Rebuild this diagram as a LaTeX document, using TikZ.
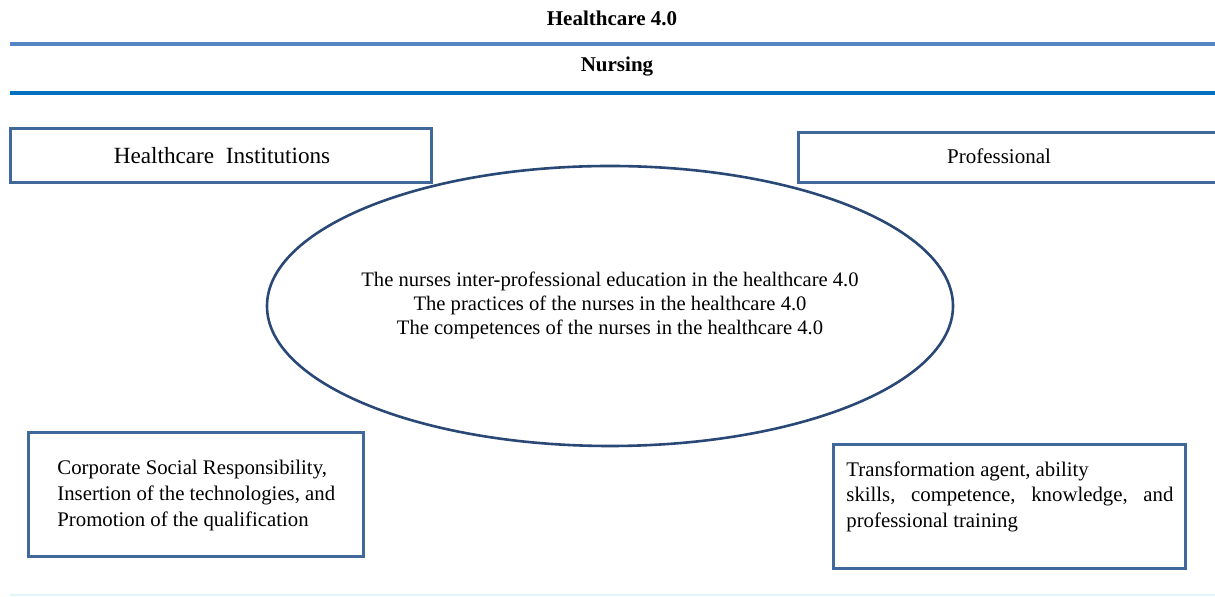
\documentclass[tikz,border=0pt]{standalone}
\usepackage{fontspec}
\setmainfont{Liberation Serif}

\definecolor{rulelight}{RGB}{84,134,196}
\definecolor{ruledark}{RGB}{0,112,192}
\definecolor{boxblue}{RGB}{65,104,155}
\definecolor{ovalblue}{RGB}{42,72,118}
\definecolor{faintcyan}{RGB}{225,246,250}

\tikzset{
  framebox/.style={draw=boxblue, line width=1.5pt},
  bodytext/.style={font=\fontsize{10.4}{12.8}\selectfont, inner sep=0pt},
  heading/.style={font=\fontsize{10.5}{12}\selectfont\bfseries}
}

\begin{document}
\begin{tikzpicture}[x=0.5pt,y=-0.5pt]
\useasboundingbox (0,0) rectangle (1215,597);
% headings and rules
\node [heading] (care) at (612,18) {Healthcare 4.0};
\draw [rulelight, line width=2pt] (10,44) -- (1215,44);
\node [heading] (nurs) at (617,67) {Nursing};
\draw [ruledark, line width=2pt] (10,93) -- (1215,93);
\draw [faintcyan, line width=0.8pt] (10,595) -- (1215,595);

% top boxes
\draw [framebox] (10,129) rectangle (431,183);
\node [font=\fontsize{11.6}{13}\selectfont] (inst) at (222,156) {Healthcare~~Institutions};
\draw [framebox] (798,133) rectangle (1225,183);
\node [font=\fontsize{10.5}{12}\selectfont] (prof) at (999,156) {Professional};

% central oval
\draw [ovalblue, line width=1.3pt] (610,306) ellipse [x radius=343, y radius=140];
\node [align=center, font=\fontsize{10.3}{12}\selectfont] (core) at (610,305)
  {The nurses inter-professional education in the healthcare 4.0\\
   The practices of the nurses in the healthcare 4.0\\
   The competences of the nurses in the healthcare 4.0};

% bottom boxes
\draw [framebox] (28,433) rectangle (363,557);
\node [bodytext, anchor=north west, align=left] (inst-list) at (57,460)
  {Corporate Social Responsibility,\\
   Insertion of the technologies, and\\
   Promotion of the qualification};
\draw [framebox] (833,445) rectangle (1185,569);
\node [bodytext, anchor=north west, text width=163.5pt, align=justify] (prof-list) at (846,461)
  {\hyphenpenalty=10000 Transformation agent, ability\\
   skills, competence, knowledge, and\linebreak professional training};
\end{tikzpicture}
\end{document}
